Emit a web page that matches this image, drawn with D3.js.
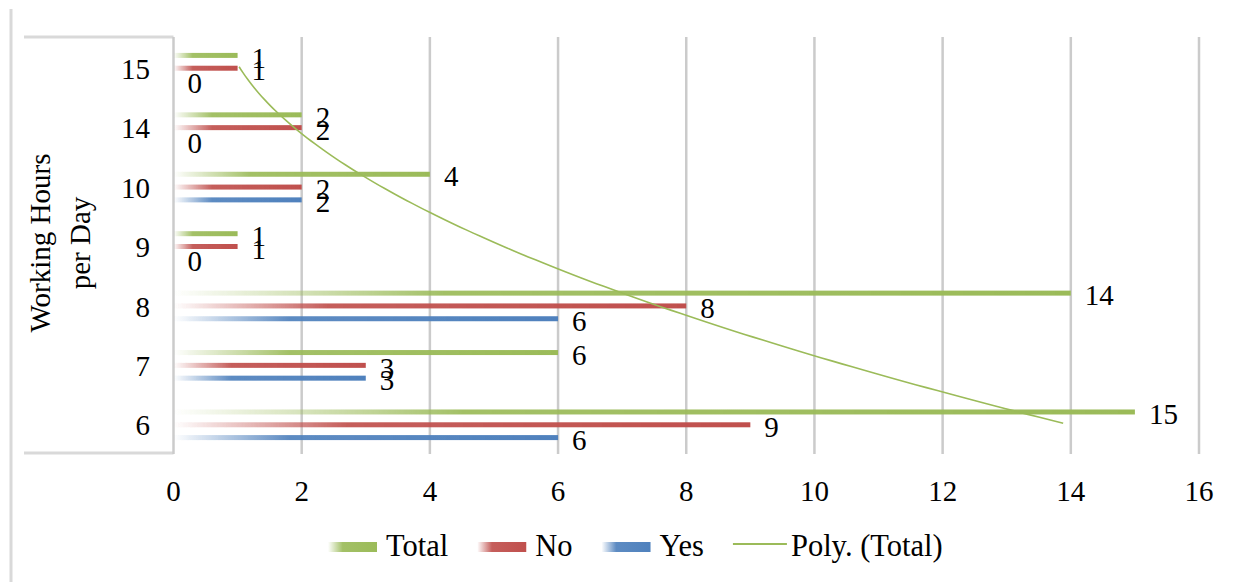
<!DOCTYPE html>
<html>
<head>
<meta charset="utf-8">
<script src="https://cdn.jsdelivr.net/npm/d3@7/dist/d3.min.js"></script>
</head>
<body style="margin:0; background:#fff">
<svg id="chart" width="1238" height="582"></svg>
<script>
// Working hours per day (categories, top to bottom)
const categories = ["15", "14", "10", "9", "8", "7", "6"];
const totalValues = [1, 2, 4, 1, 14, 6, 15];
const noValues    = [1, 2, 2, 1, 8, 3, 9];
const yesValues   = [0, 0, 2, 0, 6, 3, 6];
const seriesNames = ["Total", "No", "Yes"];
const seriesColors = ["#9bbb59", "#c0504d", "#4f81bd"];
const xTicks = [0, 2, 4, 6, 8, 10, 12, 14, 16];
const axisTitle = ["Working Hours", "per Day"];
const trendLabel = "Poly. (Total)";

const seriesValues = [totalValues, noValues, yesValues];

const FONT = "'Liberation Serif'";
const svg = d3.select("#chart").style("font-family", FONT);
const W = 1238, H = 582;
const plot = { left: 173.5, right: 1199, top: 37, bottom: 453 };
const fontSize = 29;
const legendFontSize = 30.5;

// every text element gets the serif face explicitly
function addText(sel, size) {
  return sel.append("text").style("font-family", FONT).attr("font-size", size || fontSize).attr("fill", "#000");
}

// Scales
const x = d3.scaleLinear().domain([0, 16]).range([plot.left, plot.right]);
const y0 = d3.scaleBand().domain(categories).range([plot.top, plot.bottom]);
const y1 = d3.scaleBand().domain(seriesNames).range([0, y0.bandwidth()]).paddingOuter(0.82);
const groupShift = 1.5;
const barH = 5;
const barCenter = (cat, s) => y0(cat) + y1(s) + y1.bandwidth() / 2 + groupShift;
const catCenter = cat => y0(cat) + y0.bandwidth() / 2;

// Gradients: fade in from the axis side
const defs = svg.append("defs");
seriesNames.forEach((s, i) => {
  const g = defs.append("linearGradient").attr("id", "grad-" + s)
    .attr("x1", 0).attr("x2", 1).attr("y1", 0).attr("y2", 0);
  g.append("stop").attr("offset", 0).attr("stop-color", seriesColors[i]).attr("stop-opacity", 0);
  g.append("stop").attr("offset", 0.3).attr("stop-color", seriesColors[i]).attr("stop-opacity", 0.92);
  g.append("stop").attr("offset", 1).attr("stop-color", seriesColors[i]).attr("stop-opacity", 1);
});
defs.append("filter").attr("id", "soft").attr("x", "-5%").attr("y", "-100%").attr("width", "110%").attr("height", "300%")
  .append("feGaussianBlur").attr("stdDeviation", 0.6);

// Frame lines
const frame = svg.append("g").attr("stroke", "#d9d9d9").attr("stroke-width", 3).attr("fill", "none");
frame.append("line").attr("x1", 11).attr("x2", 11).attr("y1", 9).attr("y2", H);
frame.append("line").attr("x1", 24).attr("x2", plot.left).attr("y1", plot.top).attr("y2", plot.top);
frame.append("line").attr("x1", 24).attr("x2", plot.left).attr("y1", plot.bottom).attr("y2", plot.bottom);

// Vertical gridlines
svg.append("g").selectAll("line").data(xTicks).join("line")
  .attr("x1", d => x(d)).attr("x2", d => x(d))
  .attr("y1", plot.top).attr("y2", plot.bottom + 1)
  .attr("stroke", "#cbcbcb").attr("stroke-width", 2.5);

// Bars
const barData = [];
categories.forEach((c, ci) => {
  seriesNames.forEach((s, si) => barData.push({ cat: c, s, si, v: seriesValues[si][ci] }));
});
svg.append("g").attr("filter", "url(#soft)").selectAll("rect").data(barData.filter(d => d.v > 0)).join("rect")
  .attr("x", x(0))
  .attr("y", d => barCenter(d.cat, d.s) - barH / 2)
  .attr("width", d => x(d.v) - x(0))
  .attr("height", barH)
  .attr("fill", d => "url(#grad-" + d.s + ")");

// Value labels
const valueLabels = svg.append("g");
barData.forEach(d => {
  addText(valueLabels)
    .attr("x", x(d.v) + 14)
    .attr("y", barCenter(d.cat, d.s) + 2)
    .attr("dy", "0.35em")
    .text(d.v);
});

// Polynomial (order 2) trendline of Total against category index (bottom = 1)
const n = categories.length;
const pts = totalValues.map((v, i) => ({ t: n - i, v }));
function quadFit(points) {
  let s = [0, 0, 0, 0, 0], r = [0, 0, 0];
  points.forEach(p => {
    for (let k = 0; k <= 4; k++) s[k] += Math.pow(p.t, k);
    for (let k = 0; k <= 2; k++) r[k] += p.v * Math.pow(p.t, k);
  });
  const A = [[s[0], s[1], s[2], r[0]], [s[1], s[2], s[3], r[1]], [s[2], s[3], s[4], r[2]]];
  for (let i = 0; i < 3; i++) {
    for (let j = i + 1; j < 3; j++) {
      const f = A[j][i] / A[i][i];
      for (let k = i; k < 4; k++) A[j][k] -= f * A[i][k];
    }
  }
  const c = [0, 0, 0];
  for (let i = 2; i >= 0; i--) {
    let sum = A[i][3];
    for (let k = i + 1; k < 3; k++) sum -= A[i][k] * c[k];
    c[i] = sum / A[i][i];
  }
  return t => c[0] + c[1] * t + c[2] * t * t;
}
const fit = quadFit(pts);
const yIdx = d3.scaleLinear().domain([1, n]).range([catCenter(categories[n - 1]), catCenter(categories[0])]);
const trend = d3.range(1, n + 0.001, 0.05).map(t => [x(fit(t)), yIdx(t)]);
svg.append("path").attr("d", d3.line()(trend))
  .attr("fill", "none").attr("stroke", "#9bbb59").attr("stroke-width", 1.6);

// Category axis labels
const catLabels = svg.append("g");
categories.forEach(c => {
  addText(catLabels).attr("x", 150).attr("y", catCenter(c) + 2)
    .attr("dy", "0.35em").attr("text-anchor", "end").text(c);
});

// Value axis labels
const valAxis = svg.append("g");
xTicks.forEach(t => {
  addText(valAxis).attr("x", x(t)).attr("y", 491)
    .attr("dy", "0.35em").attr("text-anchor", "middle").text(t);
});

// Axis title
const title = addText(svg).attr("transform", "translate(50,243) rotate(-90)")
  .attr("text-anchor", "middle");
title.append("tspan").attr("x", 0).attr("y", 0).text(axisTitle[0]);
title.append("tspan").attr("x", 0).attr("y", 40).text(axisTitle[1]);

// Legend
const legend = svg.append("g");
const legendItems = seriesNames.map((s, i) => ({ label: s, type: "bar", color: seriesColors[i], key: s }))
  .concat([{ label: trendLabel, type: "line", color: "#9bbb59" }]);
let lx = 328;
const ly = 547;
legendItems.forEach(it => {
  if (it.type === "bar") {
    legend.append("rect").attr("x", lx).attr("y", ly - 5).attr("width", 49).attr("height", 10)
      .attr("fill", "url(#grad-" + it.key + ")");
  } else {
    legend.append("line").attr("x1", lx).attr("x2", lx + 54).attr("y1", ly - 3).attr("y2", ly - 3)
      .attr("stroke", it.color).attr("stroke-width", 2);
  }
  const t = addText(legend, legendFontSize).attr("x", lx + 58).attr("y", ly).attr("dy", "0.3em").text(it.label);
  lx += 58 + t.node().getComputedTextLength() + 29;
});
</script>
</body>
</html>
